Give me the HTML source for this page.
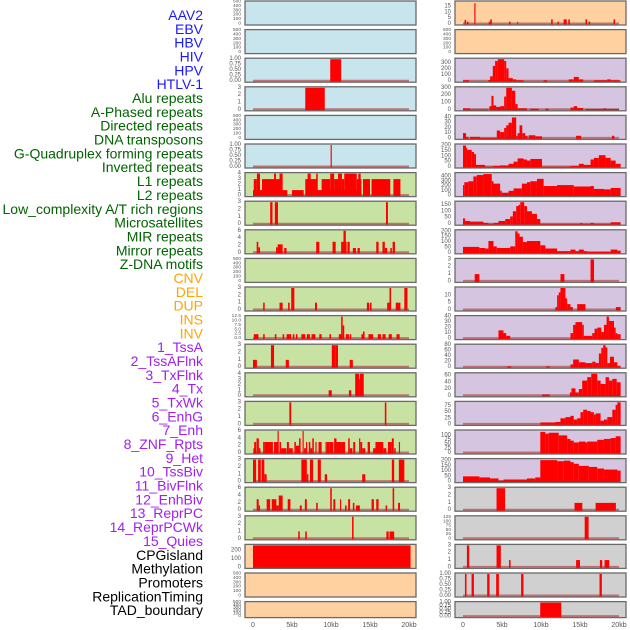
<!DOCTYPE html>
<html><head><meta charset="utf-8"><style>
html,body{margin:0;padding:0;background:#fff}
svg{display:block;font-family:"Liberation Sans",sans-serif}
</style></head><body>
<svg id="chart" width="630" height="630" viewBox="0 0 630 630"></svg>
<script>
const trackLabels=["AAV2","EBV","HBV","HIV","HPV","HTLV-1","Alu repeats","A-Phased repeats","Directed repeats","DNA transposons","G-Quadruplex forming repeats","Inverted repeats","L1 repeats","L2 repeats","Low_complexity A/T rich regions","Microsatellites","MIR repeats","Mirror repeats","Z-DNA motifs","CNV","DEL","DUP","INS","INV","1_TssA","2_TssAFlnk","3_TxFlnk","4_Tx","5_TxWk","6_EnhG","7_Enh","8_ZNF_Rpts","9_Het","10_TssBiv","11_BivFlnk","12_EnhBiv","13_ReprPC","14_ReprPCWk","15_Quies","CPGisland","Methylation","Promoters","ReplicationTiming","TAD_boundary"];
const labelGroups=[6,13,5,15,5];
const groupColors=["#1a1aff","#006400","#ffa500","#a020f0","#000000"];
const xTickLabels=["0","5kb","10kb","15kb","20kb"];
const xTickValues=[0,5,10,15,20];
const ticks500=[0,100,200,300,400,500], ticks1=[0,0.25,0.5,0.75,1], ticks3=[0,1,2,3];
// left column data [startKb,endKb,value]
const L0=[],L1=[],L4=[],L9=[],L20=[],L21=[];
const L2=[[9.9,11.3,1]];
const L3=[[6.7,9.2,3]];
const L5=[[9.95,10.1,1]];
const L6=[[0,4.4,1],[0.1,0.5,3],[0.5,0.9,4],[1.15,2.8,3],[2.7,2.95,4],[2.95,3.5,3],[3.4,3.8,4],[5,6.5,1],[7.5,8.8,1],[6.7,7.5,3],[7,7.4,4],[7.5,8.2,3],[8.1,8.3,4],[8.8,9.9,3],[9.9,10.4,4],[10.4,10.9,3],[10.9,11.4,4],[11.4,11.7,3],[11.7,13.3,4],[13.3,13.9,3],[13.5,13.8,4],[8.8,13.9,1],[14.1,15,3],[15.2,17.6,3],[18,18.9,3]];
const L7=[[2.2,2.5,3],[2.8,3.2,3],[17.05,17.3,3]];
const L8=[[0.47,0.68,3],[0.68,0.9,1.5],[2.95,3.16,1.5],[3.16,3.8,2.3],[4.0,4.3,1.3],[8.1,8.5,3],[10.2,10.6,3],[11.3,11.6,3],[11.6,11.9,6],[11.8,12.0,3],[12.1,12.4,3],[12.8,13.2,1.3],[13.4,13.7,1.3],[15.8,16.1,3],[16.6,16.9,3],[16.9,17.2,1.3],[17.6,17.8,1.3],[17.9,18.2,3]];
const L10=[[1.3,1.5,1],[3.4,3.8,1],[4.5,4.7,1],[4.9,5.3,3],[7.95,8.2,1],[14.6,14.9,1],[15,15.2,1],[17.2,17.6,1],[17.5,17.7,3],[18.3,18.9,1],[19.4,19.8,3]];
const L11=[[0.1,0.7,2.5],[1.3,1.5,2.5],[2.8,3.0,2.5],[3.8,4.0,2.5],[4.3,4.9,2.5],[5.1,5.3,2.5],[5.5,5.7,2.5],[6.2,6.7,2.5],[6.9,7.3,2.5],[7.5,8.0,2.5],[8.5,8.8,2.5],[9.8,10.0,2.5],[11.0,11.4,2.5],[11.9,12.3,2.5],[12.4,12.6,2.5],[13.9,14.3,2.5],[14.8,15.4,2.5],[16.0,16.4,2.5],[16.6,17.0,2.5],[17.4,17.8,2.5],[18.4,18.8,2.5],[11.3,11.5,12.5],[11.5,11.7,7.5],[14.1,14.3,4]];
const L12=[[0,0.5,1],[2.3,2.7,3],[4.2,4.6,1],[10.1,10.6,3],[10.6,10.9,3],[12.4,12.8,1]];
const L13=[[9.7,10.1,1],[12.3,12.6,1],[13.1,13.6,4],[13.6,13.7,3],[13.7,14.2,4]];
const L14=[[4.66,4.9,3],[16.9,17.1,3]];
const L15=[[0.05,0.3,1.3],[0.15,0.4,3],[0.45,0.75,4],[0.75,0.95,1.3],[1.3,1.5,3],[1.5,2.55,3],[2.7,3.2,3],[3.15,3.3,6],[3.4,3.6,3],[3.6,4.3,1.3],[4.35,4.6,3],[4.6,5.1,1.3],[5.3,5.5,3],[5.5,5.9,2],[5.9,6.1,4],[6.35,6.5,6],[6.55,6.8,1.3],[6.8,6.95,3],[7.15,7.35,3],[7.35,7.6,1.3],[7.6,7.8,4],[8.0,8.15,3],[8.4,8.8,3],[9.3,9.45,3],[9.45,9.85,3],[9.85,10.3,3],[10.4,10.7,4],[10.7,11.4,3],[11.4,11.8,3],[12.2,12.4,4],[12.4,12.75,1.3],[12.85,13.1,3],[13.6,13.75,4],[13.75,14.0,3],[14.0,14.4,1.3],[14.7,15.0,3],[15.4,15.7,1.3],[15.7,16.7,3],[16.7,17.1,1.3],[17.3,17.8,3],[17.8,18.05,4],[18.1,18.3,1.3],[18.7,18.85,3]];
const L16=[[0,0.4,3],[0.65,1.0,3],[1.1,1.45,3],[1.45,1.75,1],[6.2,6.9,3],[6.9,7.1,1],[7.3,7.7,3],[8.3,8.7,3],[9.2,9.5,1],[14.0,14.4,1],[17.8,18.1,3],[18.7,19.4,3]];
const L17=[[0.47,0.73,3],[0.73,0.9,1.3],[1.75,2.2,3],[2.4,3.0,3],[3.0,3.3,1.3],[3.3,3.8,4],[4.45,4.8,3],[6.0,6.25,1.3],[6.65,6.9,3],[8.1,8.3,2],[9.9,10.1,6],[10.3,10.55,3],[11.15,11.3,3],[11.8,12.0,1.3],[12.2,12.45,3],[12.8,13.0,2],[13.2,13.7,1.3],[15.2,15.5,3],[15.8,16.1,3],[17.0,17.2,1.3],[17.9,18.1,6],[18.6,18.85,2]];
const L18=[[5.8,6.0,1],[6.7,6.9,1],[12.7,12.9,3],[17.1,17.4,1],[17.5,18.1,1]];
const L19=[[0,20.2,260]];
// right column data
const R1=[];
const R0=[[0.2,0.4,3.5],[0.5,0.7,2],[1.45,1.6,18],[3.3,3.5,2],[3.5,3.7,4],[5.9,6.1,2],[6.95,7.05,2],[11.3,11.5,4],[12.1,12.3,2],[12.9,13.3,4],[13.5,13.7,4],[15.7,15.9,4],[16.1,16.3,2],[19.3,19.5,4]];
const R2=[[0,0.77,15],[3.26,3.48,20],[3.48,3.82,80],[3.82,4.12,250],[4.12,4.46,330],[4.46,5.28,360],[5.28,5.54,330],[5.54,5.84,210],[5.84,6.39,50],[6.39,6.82,30],[6.82,7.77,15],[10.34,10.77,15],[13.56,14.2,30],[14.2,14.85,70],[14.85,15.41,30],[16.78,18.5,15],[18.5,18.93,30],[18.93,20.2,15]];
const R3=[[0,0.9,20],[0.9,3.26,5],[3.39,3.65,50],[3.65,3.91,190],[3.91,4.25,60],[4.25,4.76,40],[4.76,5.28,50],[5.28,5.54,180],[5.54,6.27,300],[6.27,6.7,260],[6.7,7.0,80],[7.0,8.2,20],[8.63,9.7,15],[10.56,10.99,15],[13.78,14.2,30],[14.2,14.64,50],[14.64,15.41,25],[15.7,20,10],[18.0,18.3,20]];
const R4=[[0,0.39,10],[0.39,0.69,3],[0.9,2.19,3],[2.19,4.33,1],[4.33,4.76,15],[4.76,5.28,12],[5.28,5.54,20],[5.54,5.84,25],[5.84,6.27,30],[6.27,6.82,40],[6.82,7.0,5],[7.0,7.25,10],[7.25,7.6,25],[7.6,7.98,10],[7.98,8.28,5],[8.41,9.27,6],[9.27,10.13,4],[14.5,15.15,5],[19.1,19.4,5]];
const R5=[[0,0.39,200],[0.39,0.47,180],[0.47,1.12,160],[1.12,1.42,140],[1.42,1.67,120],[1.67,2.83,20],[2.83,3.91,3],[3.91,4.76,10],[4.76,5.84,15],[5.84,6.48,30],[6.48,7.0,50],[7.0,7.77,80],[7.77,8.2,70],[8.2,8.63,60],[8.63,10.13,75],[10.13,13.78,3],[13.78,14.85,10],[14.85,15.49,30],[15.49,16.35,20],[16.35,16.78,70],[16.78,17.42,85],[17.42,18.28,110],[18.28,18.93,85],[18.93,19.57,60],[19.57,20.21,30]];
const R6=[[0,0.17,220],[0.17,0.69,280],[0.69,1.33,300],[1.33,1.76,400],[1.76,2.62,430],[2.62,3.69,450],[3.69,3.91,300],[3.91,4.76,250],[4.76,4.98,100],[4.98,5.84,60],[5.84,6.48,100],[6.48,7.55,150],[7.55,8.2,250],[8.2,8.63,280],[8.63,9.48,300],[9.48,10.34,350],[10.34,12.06,200],[12.06,14.2,220],[14.2,16.35,190],[16.35,16.78,200],[16.78,18.07,140],[18.07,18.93,130],[18.93,20.21,160]];
const R7=[[0,0.26,45],[0.26,0.9,25],[0.9,2.62,20],[2.62,3.26,10],[3.26,3.91,3],[3.91,4.55,10],[4.55,5.41,25],[5.41,6.05,40],[6.05,6.39,60],[6.39,6.82,100],[6.82,7.12,140],[7.12,7.34,150],[7.34,7.85,170],[7.85,8.2,140],[8.2,8.84,100],[8.84,9.48,80],[9.48,9.91,40],[9.91,20.21,3],[15.06,15.28,10],[16.35,16.78,10],[18.93,20.21,15]];
const R8=[[0,2.1,55],[2.1,2.83,45],[2.83,3.26,40],[3.26,3.91,110],[3.91,4.33,60],[4.33,6.05,45],[6.05,6.7,60],[6.7,7.0,200],[7.0,7.25,180],[7.25,7.68,150],[7.68,8.2,100],[8.2,9.91,110],[9.91,10.56,70],[10.56,12.06,40],[12.06,13.78,15],[13.78,14.42,30],[14.42,14.85,15],[14.85,15.49,30],[15.49,15.92,15],[15.92,18.93,8],[18.93,19.79,30],[19.79,20.21,20]];
const R9=[[1.5,2.1,1],[12.5,13.0,1],[16.35,16.8,3]];
const R10=[[11.85,12.06,2],[12.06,12.27,10],[12.27,12.49,12],[12.49,13.13,15],[13.13,13.35,8],[13.35,13.78,4],[13.78,14.08,2],[14.64,15.7,4],[19.6,20.21,2]];
const R11=[[4.55,5.19,15],[5.19,5.54,10],[5.54,6.05,5],[13.78,14.12,10],[14.12,14.42,25],[14.42,15.28,30],[15.28,15.49,25],[15.49,16.57,5],[16.57,16.87,10],[16.87,17.21,18],[17.21,17.73,20],[17.73,18.07,12],[18.07,18.41,25],[18.41,18.71,40],[18.71,19.36,32],[19.36,19.57,20],[19.57,19.79,10],[19.79,20.21,8]];
const R12=[[5.71,6.18,3],[10.69,11.12,3],[13.78,14.12,10],[14.12,14.85,28],[14.85,15.7,18],[15.7,16.57,15],[16.57,17.0,20],[17.0,17.42,15],[17.42,17.73,50],[17.73,17.98,70],[17.98,18.28,80],[18.28,18.5,72],[18.5,18.84,15],[18.84,19.36,38],[19.36,19.79,18],[19.79,20.21,5]];
const R13=[[10.13,11.12,4],[13.7,13.9,10],[13.9,14.42,22],[14.42,14.85,10],[14.85,15.28,20],[15.28,15.92,45],[15.92,16.44,55],[16.44,17.21,65],[17.21,17.64,45],[17.64,18.28,35],[18.28,18.71,55],[18.71,19.14,45],[19.14,19.7,50],[19.7,20.21,40]];
const R14=[[9.91,11.85,8],[11.85,12.49,10],[12.49,13.13,25],[13.13,13.78,30],[13.78,14.2,35],[14.2,14.64,20],[14.64,15.06,25],[15.06,15.41,50],[15.41,15.92,60],[15.92,16.35,55],[16.35,16.78,50],[16.78,17.0,40],[17.0,17.64,45],[17.64,18.07,15],[18.07,18.5,20],[18.5,19.14,30],[19.14,19.57,60],[19.57,19.79,80],[19.79,20.21,90]];
const R15=[[9.91,10.56,120],[10.56,10.99,110],[10.99,12.27,115],[12.27,13.35,100],[13.35,13.78,80],[13.78,14.2,70],[14.2,14.85,60],[14.85,15.7,65],[15.7,15.92,60],[15.92,17.21,65],[17.21,18.07,75],[18.07,18.93,80],[18.93,19.57,85],[19.57,20.21,95]];
const R16=[[0,2.1,50],[2.1,3.48,40],[3.48,4.55,30],[4.55,5.19,10],[5.19,8.2,20],[8.2,9.27,30],[9.27,9.91,40],[9.91,12.06,205],[12.06,12.92,195],[12.92,13.78,200],[13.78,14.2,185],[14.2,14.85,170],[14.85,16.14,150],[16.14,17.21,140],[17.21,18.07,125],[18.07,19.79,115],[19.79,20.21,105]];
const R17=[[4.3,5.4,3],[14.3,15.3,1],[17.0,19.6,1]];
const R18=[[15.6,16.1,130]];
const R19=[[0.5,0.8,3],[4.3,4.85,3],[5.9,6.1,1],[14.5,15.0,1],[17.55,17.85,1],[18.15,18.75,1]];
const R20=[[0.25,0.45,1],[1.1,1.4,1],[3.1,3.4,1],[4.25,4.6,1],[7.45,7.75,1],[17.5,17.8,1]];
const R21=[[9.9,12.6,1]];

const BLUE="#c8e4ec",GREEN="#c8e2a4",ORANGE="#ffd1a1",PURPLE="#d5c5e1",GRAY="#d0d0d0";
const left=[
 [L0,500,ticks500,BLUE],[L1,500,ticks500,BLUE],[L2,1,ticks1,BLUE],[L3,3,ticks3,BLUE],[L4,500,ticks500,BLUE],[L5,1,ticks1,BLUE],
 [L6,4,[0,1,2,3,4],GREEN],[L7,3,ticks3,GREEN],[L8,6,[0,2,4,6],GREEN],[L9,500,ticks500,GREEN],[L10,3,ticks3,GREEN],
 [L11,12.5,[0,2.5,5,7.5,10,12.5],GREEN],[L12,3,ticks3,GREEN],[L13,4,[0,1,2,3,4],GREEN],[L14,3,ticks3,GREEN],
 [L15,6,[0,2,4,6],GREEN],[L16,3,ticks3,GREEN],[L17,6,[0,2,4,6],GREEN],[L18,3,ticks3,GREEN],
 [L19,260,[0,100,200],ORANGE],[L20,500,ticks500,ORANGE],[L21,500,ticks500,ORANGE]];
const right=[
 [R0,19,[0,5,10,15],ORANGE],[R1,500,ticks500,ORANGE],[R2,360,[0,100,200,300],PURPLE],[R3,300,[0,100,200,300],PURPLE],
 [R4,42,[0,10,20,30,40],PURPLE],[R5,205,[0,50,100,150,200],PURPLE],[R6,460,[0,100,200,300,400],PURPLE],
 [R7,170,[0,50,100,150],PURPLE],[R8,205,[0,50,100,150,200],PURPLE],[R9,3,ticks3,PURPLE],[R10,15,[0,5,10],PURPLE],
 [R11,40,[0,10,20,30,40],PURPLE],[R12,80,[0,20,40,60,80],PURPLE],[R13,65,[0,20,40,60],PURPLE],
 [R14,90,[0,25,50,75],PURPLE],[R15,125,[0,25,50,75,100],PURPLE],[R16,210,[0,50,100,150,200],PURPLE],
 [R17,3,ticks3,GRAY],[R18,130,[0,25,50,75,100,125],GRAY],[R19,3,ticks3,GRAY],[R20,1,ticks1,GRAY],[R21,1,ticks1,GRAY]];

const NS="http://www.w3.org/2000/svg";
const svg=document.getElementById('chart');
function mk(tag,attrs,parent){const e=document.createElementNS(NS,tag);for(const k in attrs)e.setAttribute(k,attrs[k]);(parent||svg).appendChild(e);return e;}

// labels
let idx=0;
labelGroups.forEach((n,g)=>{for(let i=0;i<n;i++){
  const t=mk('text',{x:203,y:15+idx*13.84,'text-anchor':'end','dominant-baseline':'central','font-size':14,fill:groupColors[g]});
  
  
  t.textContent=trackLabels[idx];idx++;}});

function fmt(v,arr){const dec=arr.some(a=>a%1!==0);if(!dec)return String(v);const d=arr.some(a=>(a*100)%10!==0)?2:1;return v.toFixed(d);}

function drawCol(cols,px,x0,colName){
  const pw=171, xs=kb=>x0+kb*7.8;
  cols.forEach((c,i)=>{
    const [data,max,ticks,bg]=c;
    const top=1+i*28.6, h=(i===21)?16:24, bot=top+h;
    const g=mk('g',{});
    
    
    mk('rect',{x:px,y:top,width:pw,height:h,fill:bg},g);
    const ys=v=>bot-1-(v/max)*(h-2);
    if(data.length){
      const bl=mk('line',{x1:xs(0),x2:xs(20),y1:bot-1.5,y2:bot-1.5,stroke:'#b85a5a','stroke-width':2,opacity:0.8},g);
      
      
    }
    data.forEach(d=>{
      const y=ys(Math.min(d[2],max));
      const r=mk('rect',{x:xs(d[0]),y:y,width:Math.max(1,xs(d[1])-xs(d[0])),height:bot-y,fill:'#ff0000'},g);
      
      
    });
    mk('rect',{x:px,y:top,width:pw,height:h,fill:'none',stroke:'#6a6a6a','stroke-width':1.3},g);
    const fs=ticks.length>=6?4.8:6;
    ticks.forEach(t=>{
      const tx=mk('text',{x:px-4,y:ys(t),'text-anchor':'end','dominant-baseline':'central','font-size':fs,fill:'#555'},g);
      
      
      tx.textContent=fmt(t,ticks);
    });
  });
  xTickValues.forEach((v,k)=>{
    const t=mk('text',{x:xs(v),y:627,'text-anchor':'middle','font-size':7,fill:'#555'});
    
    
    t.textContent=xTickLabels[k];
  });
}
drawCol(left,245,253,'left');
drawCol(right,455,463,'right');
</script>
</body></html>
